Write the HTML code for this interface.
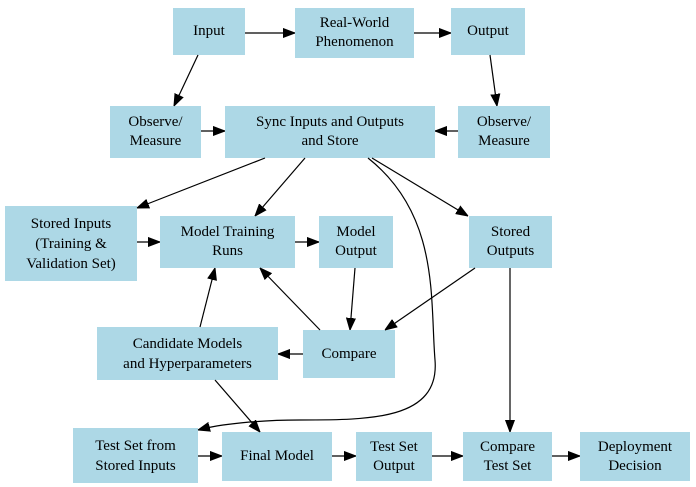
<!DOCTYPE html>
<html><head><meta charset="utf-8"><style>
html,body{margin:0;padding:0;background:#fff;}
body{position:relative;width:696px;height:487px;overflow:hidden;}
svg{position:absolute;left:0;top:0;}
.n{position:absolute;background:#add8e6;display:flex;align-items:center;justify-content:center;text-align:center;font-family:"Liberation Serif",Times,serif;font-size:15px;line-height:19px;color:#000;}
path,line{stroke:#000;stroke-width:1.2;fill:none;}
</style></head><body>
<div class="n" style="left:173px;top:8px;width:72px;height:47px">Input</div>
<div class="n" style="left:295px;top:8px;width:119px;height:50px">Real-World<br>Phenomenon</div>
<div class="n" style="left:451px;top:8px;width:74px;height:47px">Output</div>
<div class="n" style="left:110px;top:106px;width:91px;height:52px">Observe/<br>Measure</div>
<div class="n" style="left:225px;top:106px;width:210px;height:52px">Sync Inputs and Outputs<br>and Store</div>
<div class="n" style="left:458px;top:106px;width:92px;height:52px">Observe/<br>Measure</div>
<div class="n" style="left:5px;top:206px;width:132px;height:75px;line-height:20px">Stored Inputs<br>(Training &amp;<br>Validation Set)</div>
<div class="n" style="left:160px;top:216px;width:135px;height:52px">Model Training<br>Runs</div>
<div class="n" style="left:319px;top:216px;width:74px;height:52px">Model<br>Output</div>
<div class="n" style="left:469px;top:216px;width:83px;height:52px">Stored<br>Outputs</div>
<div class="n" style="left:97px;top:327px;width:181px;height:53px;line-height:20px">Candidate Models<br>and Hyperparameters</div>
<div class="n" style="left:303px;top:330px;width:92px;height:48px">Compare</div>
<div class="n" style="left:73px;top:428px;width:125px;height:55px;line-height:20px">Test Set from<br>Stored Inputs</div>
<div class="n" style="left:222px;top:432px;width:110px;height:49px">Final Model</div>
<div class="n" style="left:356px;top:432px;width:76px;height:49px">Test Set<br>Output</div>
<div class="n" style="left:463px;top:432px;width:89px;height:49px">Compare<br>Test Set</div>
<div class="n" style="left:580px;top:432px;width:110px;height:49px">Deployment<br>Decision</div>
<svg width="696" height="487" viewBox="0 0 696 487" xmlns="http://www.w3.org/2000/svg">
<defs><marker id="a" viewBox="0 0 12 10" refX="12" refY="5" markerWidth="12" markerHeight="10" markerUnits="userSpaceOnUse" orient="auto"><path d="M0,0.5 L12,5 L0,9.5 Z" style="fill:#000;stroke:#000;stroke-width:1"/></marker></defs>
<g marker-end="url(#a)">
<line x1="245" y1="33" x2="295" y2="33"/>
<line x1="414" y1="33" x2="451" y2="33"/>
<line x1="198" y1="55" x2="174" y2="106"/>
<line x1="490" y1="55" x2="497" y2="106"/>
<line x1="201" y1="131" x2="225" y2="131"/>
<line x1="458" y1="131" x2="435" y2="131"/>
<line x1="265" y1="158" x2="137" y2="208"/>
<line x1="305" y1="158" x2="255" y2="216"/>
<line x1="372" y1="158" x2="468" y2="216"/>
<path d="M368,158 C440,215 430,300 435,360 C440,420 370,420 300,420 C260,420 220,424 198,430"/>
<line x1="137" y1="242" x2="160" y2="242"/>
<line x1="295" y1="242" x2="319" y2="242"/>
<line x1="355" y1="268" x2="350" y2="330"/>
<line x1="475" y1="268" x2="385" y2="330"/>
<line x1="510" y1="268" x2="510" y2="432"/>
<line x1="320" y1="330" x2="260" y2="268"/>
<line x1="303" y1="354" x2="278" y2="354"/>
<line x1="200" y1="327" x2="215" y2="268"/>
<line x1="215" y1="380" x2="260" y2="432"/>
<line x1="198" y1="456" x2="222" y2="456"/>
<line x1="332" y1="456" x2="356" y2="456"/>
<line x1="432" y1="456" x2="463" y2="456"/>
<line x1="552" y1="456" x2="580" y2="456"/>
</g>
</svg>
</body></html>
